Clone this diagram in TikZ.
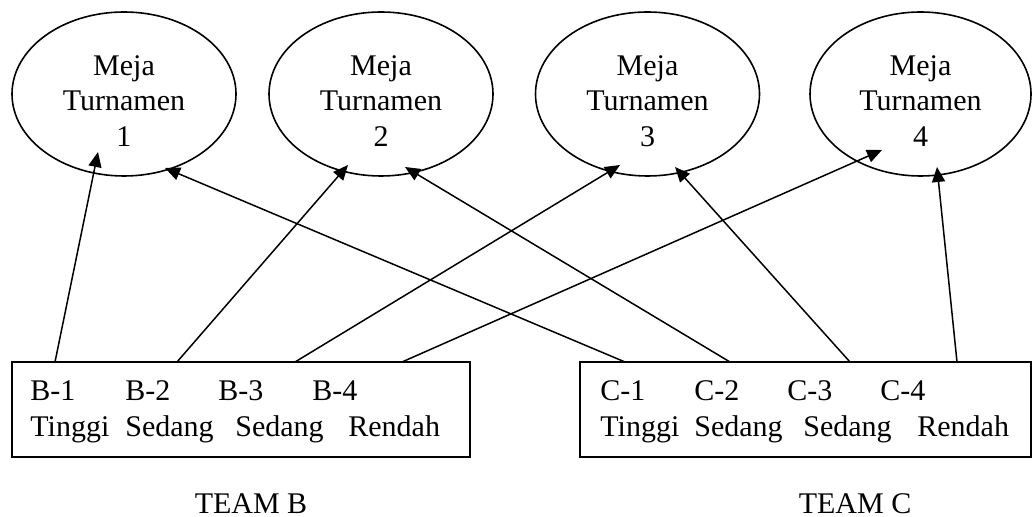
\documentclass[tikz,border=0pt]{standalone}
\usepackage{fontspec}
\setmainfont{Liberation Serif}
\usetikzlibrary{shapes.geometric,arrows.meta}
\begin{document}
\begin{tikzpicture}[x=0.5pt,y=-0.5pt,
  meja/.style={draw,ellipse,line width=0.8pt,minimum width=112pt,minimum height=82pt,inner sep=0pt},
  mejatext/.style={align=center,inner sep=0pt,font=\fontsize{15pt}{17.8pt}\selectfont},
  teambox/.style={draw,rectangle,line width=0.8pt,inner sep=0pt},
  lbl/.style={anchor=base west,inner sep=0pt,font=\fontsize{15pt}{17.8pt}\selectfont},
  conn/.style={line width=0.75pt,-{Triangle[length=7.5pt,width=6.5pt]}}]
\useasboundingbox (0,0) rectangle (1032,517);
% ellipses
\node[meja] (m1) at (124,94) {};
\node[meja] (m2) at (381,94) {};
\node[meja] (m3) at (647.5,94) {};
\node[meja,minimum width=110.5pt] (m4) at (920.5,94) {};
\node[mejatext] (t1) at (124,101) {Meja\\Turnamen\\1};
\node[mejatext] (t2) at (381,101) {Meja\\Turnamen\\2};
\node[mejatext] (t3) at (647.5,101) {Meja\\Turnamen\\3};
\node[mejatext] (t4) at (920.5,101) {Meja\\Turnamen\\4};
% boxes
\node[teambox,minimum width=229pt,minimum height=47.5pt] (bb) at (241,409.5) {};
\node[teambox,minimum width=225.5pt,minimum height=47.5pt] (cb) at (805.5,409.5) {};
% box texts
\node[lbl] (b1) at (30,401) {B-1};
\node[lbl] (b2) at (125,401) {B-2};
\node[lbl] (b3) at (218,401) {B-3};
\node[lbl] (b4) at (312,401) {B-4};
\node[lbl] (bt1) at (30,437) {Tinggi};
\node[lbl] (bt2) at (125,437) {Sedang};
\node[lbl] (bt3) at (235,437) {Sedang};
\node[lbl] (bt4) at (348,437) {Rendah};
\node[lbl] (c1) at (600,401) {C-1};
\node[lbl] (c2) at (694,401) {C-2};
\node[lbl] (c3) at (787,401) {C-3};
\node[lbl] (c4) at (880,401) {C-4};
\node[lbl] (ct1) at (600,437) {Tinggi};
\node[lbl] (ct2) at (694,437) {Sedang};
\node[lbl] (ct3) at (803,437) {Sedang};
\node[lbl] (ct4) at (917,437) {Rendah};
% team labels
\node[lbl,anchor=base] (tb) at (251,513) {TEAM B};
\node[lbl,anchor=base] (tc) at (855,513) {TEAM C};
% connector start points on box tops
\coordinate (sB1) at (55,362);
\coordinate (sB2) at (177,362);
\coordinate (sB3) at (295,362);
\coordinate (sB4) at (402,362);
\coordinate (sC1) at (625,362);
\coordinate (sC2) at (730,362);
\coordinate (sC3) at (850,362);
\coordinate (sC4) at (957,362);
% connector tips inside ellipses
\coordinate (e1a) at (98,152);
\coordinate (e1b) at (165,168);
\coordinate (e2a) at (348,165);
\coordinate (e2b) at (405,167);
\coordinate (e3a) at (620,165);
\coordinate (e3b) at (675,167);
\coordinate (e4a) at (882,150);
\coordinate (e4b) at (937,167);
\draw[conn] (sB1) -- (e1a);
\draw[conn] (sC1) -- (e1b);
\draw[conn] (sB2) -- (e2a);
\draw[conn] (sC2) -- (e2b);
\draw[conn] (sB3) -- (e3a);
\draw[conn] (sC3) -- (e3b);
\draw[conn] (sB4) -- (e4a);
\draw[conn] (sC4) -- (e4b);
\end{tikzpicture}
\end{document}
